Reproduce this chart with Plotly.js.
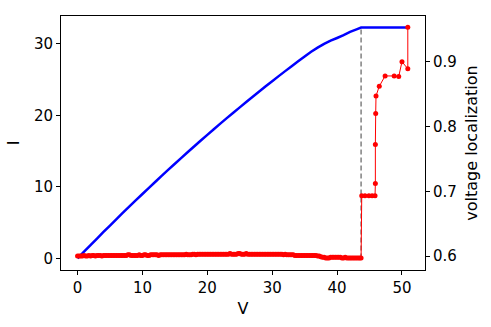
<!DOCTYPE html>
<html>
<head>
<meta charset="utf-8">
<script src="https://cdn.plot.ly/plotly-3.0.1.min.js"></script>
<style>html,body{margin:0;padding:0;background:#fff;}#chart{width:491px;height:327px;}</style>
</head>
<body>
<div id="chart"></div>
<script>
// Blue curve: current I vs voltage V
const V_I = [0,1,2,3,4,5,6,7,8,9,10,11,12,13,14,15,16,17,18,19,20,21,22,23,24,25,26,27,28,29,30,31,32,33,34,35,36,37,38,39,40,41,42,43,43.7,45,48,51];
const I = [0,0.94,1.86,2.78,3.70,4.60,5.50,6.39,7.27,8.15,9.01,9.87,10.72,11.57,12.41,13.23,14.06,14.87,15.68,16.48,17.27,18.05,18.83,19.60,20.36,21.11,21.86,22.59,23.32,24.05,24.76,25.47,26.17,26.86,27.55,28.22,28.87,29.45,29.98,30.42,30.80,31.20,31.65,32.00,32.26,32.26,32.26,32.26];

// Red curve: voltage localization vs V
const V_loc = [
  0,0.25,0.5,0.75,1,1.25,1.5,1.75,
  2,2.25,2.5,2.75,3,3.25,3.5,3.75,
  4,4.25,4.5,4.75,5,5.25,5.5,5.75,
  6,6.25,6.5,6.75,7,7.25,7.5,7.75,
  8,8.25,8.5,8.75,9,9.25,9.5,9.75,
  10,10.25,10.5,10.75,11,11.25,11.5,11.75,
  12,12.25,12.5,12.75,13,13.25,13.5,13.75,
  14,14.25,14.5,14.75,15,15.25,15.5,15.75,
  16,16.25,16.5,16.75,17,17.25,17.5,17.75,
  18,18.25,18.5,18.75,19,19.25,19.5,19.75,
  20,20.25,20.5,20.75,21,21.25,21.5,21.75,
  22,22.25,22.5,22.75,23,23.25,23.5,23.75,
  24,24.25,24.5,24.75,25,25.25,25.5,25.75,
  26,26.25,26.5,26.75,27,27.25,27.5,27.75,
  28,28.25,28.5,28.75,29,29.25,29.5,29.75,
  30,30.25,30.5,30.75,31,31.25,31.5,31.75,
  32,32.25,32.5,32.75,33,33.25,33.5,33.75,
  34,34.25,34.5,34.75,35,35.25,35.5,35.75,
  36,36.25,36.5,36.75,37,37.25,37.5,37.75,
  38,38.25,38.5,38.75,39,39.25,39.5,39.75,
  40,40.25,40.5,40.75,41,41.25,41.5,41.75,
  42,42.25,42.5,42.75,43,43.25,43.5,43.7,
  43.8,44.3,44.9,45.4,45.85,45.9,45.9,45.95,46.0,46.5,47.4,48.8,49.5,50.0,50.9,50.9];
const loc = [
  0.600,0.600,0.600,0.600,0.601,0.600,0.600,0.601,
  0.600,0.601,0.601,0.600,0.601,0.601,0.601,0.600,
  0.601,0.601,0.601,0.601,0.601,0.601,0.601,0.601,
  0.601,0.601,0.601,0.601,0.601,0.601,0.601,0.602,
  0.602,0.601,0.601,0.601,0.601,0.601,0.602,0.601,
  0.601,0.602,0.602,0.601,0.601,0.602,0.602,0.602,
  0.602,0.602,0.601,0.602,0.602,0.602,0.602,0.602,
  0.602,0.602,0.602,0.602,0.602,0.602,0.602,0.602,
  0.602,0.602,0.602,0.603,0.602,0.602,0.602,0.603,
  0.603,0.602,0.603,0.603,0.603,0.603,0.603,0.603,
  0.603,0.603,0.603,0.603,0.603,0.603,0.603,0.603,
  0.603,0.603,0.603,0.603,0.603,0.603,0.604,0.603,
  0.603,0.603,0.603,0.604,0.604,0.603,0.603,0.603,
  0.604,0.603,0.603,0.603,0.603,0.603,0.603,0.603,
  0.603,0.603,0.603,0.603,0.603,0.603,0.603,0.603,
  0.603,0.603,0.603,0.603,0.603,0.603,0.603,0.602,
  0.603,0.602,0.602,0.602,0.602,0.602,0.601,0.601,
  0.601,0.601,0.601,0.601,0.601,0.601,0.601,0.601,
  0.601,0.601,0.601,0.601,0.600,0.600,0.599,0.598,
  0.598,0.597,0.597,0.597,0.598,0.598,0.598,0.598,
  0.598,0.598,0.598,0.597,0.597,0.598,0.597,0.597,
  0.597,0.597,0.597,0.597,0.597,0.597,0.597,0.597,
  0.693,0.693,0.693,0.693,0.693,0.712,0.772,0.820,0.847,0.862,0.878,0.878,0.877,0.900,0.889,0.953];

// Critical voltage marker (dashed line)
const V_c = [43.7, 43.7];
const I_c = [0, 32.26];

const xTicks = [0,10,20,30,40,50];
const yTicks = [0,10,20,30];
const y2Ticks = [0.6,0.7,0.8,0.9];

const tickFont = {family: 'DejaVu Sans, sans-serif', size: 15, color: '#000'};
const titleFont = {family: 'DejaVu Sans, sans-serif', size: 16, color: '#000'};

const traces = [
  {x: V_I, y: I, type: 'scatter', mode: 'lines', line: {color: '#0000ff', width: 2.5, simplify: false}, yaxis: 'y', hoverinfo: 'skip'},
  {x: V_c, y: I_c, type: 'scatter', mode: 'lines', line: {color: '#808080', width: 1.5, dash: '5px,3px'}, yaxis: 'y', hoverinfo: 'skip'},
  {x: V_loc, y: loc, type: 'scatter', mode: 'lines+markers', line: {color: '#ff0000', width: 1, simplify: false}, marker: {color: '#ff0000', size: 5}, yaxis: 'y2', hoverinfo: 'skip'}
];

const layout = {
  width: 491, height: 327,
  margin: {l: 61, r: 66, t: 16, b: 57},
  paper_bgcolor: '#fff', plot_bgcolor: '#fff',
  showlegend: false,
  font: tickFont,
  xaxis: {
    range: [-2.55, 53.55], tickvals: xTicks, ticktext: xTicks.map(String),
    showgrid: false, zeroline: false, showline: true, linecolor: '#000', linewidth: 1, mirror: true,
    ticks: 'outside', ticklen: 4, tickcolor: '#000', tickfont: tickFont,
    title: {text: 'V', font: titleFont, standoff: 6}
  },
  yaxis: {
    range: [-1.61, 33.87], tickvals: yTicks, ticktext: yTicks.map(String),
    showgrid: false, zeroline: false, showline: true, linecolor: '#000', linewidth: 1,
    ticks: 'outside', ticklen: 4, tickcolor: '#000', tickfont: tickFont,
    title: {text: 'I', font: titleFont, standoff: 10}
  },
  yaxis2: {
    overlaying: 'y', side: 'right',
    range: [0.5785, 0.9705], tickvals: y2Ticks, ticktext: y2Ticks.map(v => v.toFixed(1)),
    showgrid: false, zeroline: false, showline: true, linecolor: '#000', linewidth: 1,
    ticks: 'outside', ticklen: 4, tickcolor: '#000', tickfont: tickFont,
    title: {text: 'voltage localization', font: titleFont, standoff: 9}
  }
};

Plotly.newPlot('chart', traces, layout, {staticPlot: true, displayModeBar: false});
</script>
</body>
</html>
